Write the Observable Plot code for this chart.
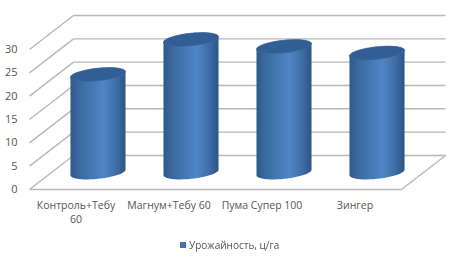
<!DOCTYPE html>
<html><head><meta charset="utf-8">
<script src="https://cdn.jsdelivr.net/npm/d3@7"></script>
<script src="https://cdn.jsdelivr.net/npm/@observablehq/plot@0.6"></script>
<style>
html,body{margin:0;padding:0;background:#fff}
#c{position:relative;width:455px;height:262px;overflow:hidden;filter:blur(0.5px)}
svg{display:block}
#l{height:30px;display:flex;align-items:center;font:10px "Open Sans",sans-serif;color:#555;padding-left:180px;box-sizing:border-box;padding-bottom:4px}
#l i{display:inline-block;width:6px;height:6px;background:#4272ae;margin-right:3px}
</style></head><body><div id="c"></div>
<script>
const categories = ["Контроль+Тебу\n60", "Магнум+Тебу 60", "Пума Супер 100", "Зингер"];
const yields = [21, 28.5, 27, 25.6];
const yTicks = [0, 5, 10, 15, 20, 25, 30];
const seriesName = "Урожайность, ц/га";

// 3D depth of the chart box, in scale units
const depthX = 0.473, depthY = 7.29;
const radius = 0.296, minor = 1.36, tilt = 0.6;

const centre = i => i + 0.5 + depthX / 2;
const base = depthY / 2;
const angles = d3.range(0, 49).map(k => k / 48 * 2 * Math.PI);
const rim = (i, level, t) => ({
  x: centre(i) + radius * Math.cos(t),
  y: level + minor * Math.sin(t) + tilt * Math.cos(t)
});
const topEllipse = (v, i) => angles.map(t => ({...rim(i, base + v, t), k: i}));
// silhouette: back half of the top rim, then front half of the base rim
const body = (v, i) => [
  ...angles.filter(t => t <= Math.PI).map(t => rim(i, base + v, t)),
  ...angles.filter(t => t >= Math.PI).map(t => rim(i, base, t))
].map(p => ({...p, k: i}));

const bodies = yields.flatMap(body);
const tops = yields.flatMap(topEllipse);

const walls = yTicks.flatMap(v => [
  {x1: 0, y1: v, x2: depthX, y2: v + depthY},
  {x1: depthX, y1: v + depthY, x2: categories.length + depthX, y2: v + depthY}
]);
const floorEdges = [
  {x1: 0, y1: 0, x2: categories.length, y2: 0},
  {x1: categories.length, y1: 0, x2: categories.length + depthX, y2: depthY}
];

const plot = Plot.plot({
  width: 455, height: 232,
  marginLeft: 29, marginRight: 10, marginTop: 15, marginBottom: 43,
  style: {background: "#fff", fontFamily: "'Open Sans',sans-serif"},
  x: {domain: [0, categories.length + depthX], axis: null},
  y: {domain: [0, 30 + depthY], axis: null},
  marks: [
    Plot.link(walls, {x1: "x1", y1: "y1", x2: "x2", y2: "y2", stroke: "#b9b9b9", strokeWidth: 1.4}),
    Plot.link(floorEdges, {x1: "x1", y1: "y1", x2: "x2", y2: "y2", stroke: "#b9b9b9", strokeWidth: 1.4}),
    Plot.axisY({ticks: yTicks, tickSize: 0, tickPadding: 12, fontSize: 11, color: "#555", label: null}),
    Plot.axisX({
      ticks: categories.map((_, i) => i + 0.5),
      tickFormat: t => categories[Math.floor(t)],
      tickSize: 0, tickPadding: 10, fontSize: 10.5, color: "#555", label: null, lineWidth: 30, lineHeight: 1.3
    }),
    Plot.line(bodies, {x: "x", y: "y", z: "k", fill: "url(#cyl)", stroke: "none"}),
    Plot.line(tops, {x: "x", y: "y", z: "k", fill: "#315f95", stroke: "#3a6ba3", strokeWidth: 0.6})
  ]
});

const NS = "http://www.w3.org/2000/svg";
const defs = document.createElementNS(NS, "defs");
const g = document.createElementNS(NS, "linearGradient");
g.setAttribute("id", "cyl");
[[0, "#2e5a8c"], [0.15, "#39699f"], [0.6, "#4f86c6"], [0.82, "#3f6ea8"], [1, "#2c5586"]].forEach(([o, c]) => {
  const s = document.createElementNS(NS, "stop");
  s.setAttribute("offset", o); s.setAttribute("stop-color", c); g.appendChild(s);
});
defs.appendChild(g); plot.prepend(defs);

const root = document.getElementById("c");
root.appendChild(plot);
const leg = document.createElement("div");
leg.id = "l";
leg.innerHTML = "<i></i><span></span>";
leg.querySelector("span").textContent = seriesName;
root.appendChild(leg);
</script></body></html>
